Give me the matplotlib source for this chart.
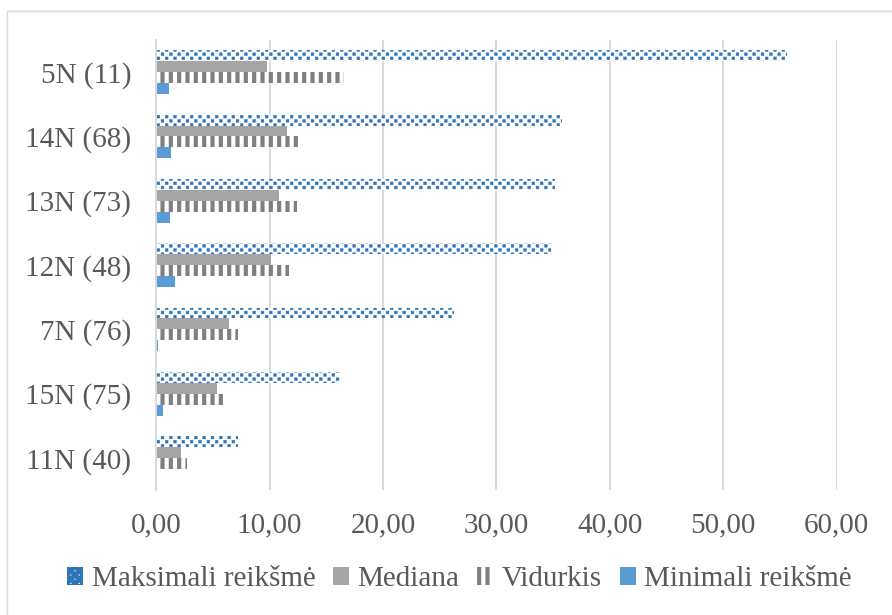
import matplotlib
matplotlib.use("Agg")
import matplotlib.hatch as mhatch
import matplotlib.pyplot as plt
import numpy as np
from matplotlib.patches import Rectangle
from matplotlib.path import Path

categories = ["5N (11)", "14N (68)", "13N (73)", "12N (48)", "7N (76)", "15N (75)", "11N (40)"]
maksimali = [55.6, 35.8, 35.2, 34.8, 26.3, 16.2, 7.2]
mediana = [9.8, 11.5, 10.8, 10.1, 6.4, 5.4, 2.2]
vidurkis = [16.6, 12.8, 12.4, 11.7, 7.2, 6.0, 2.7]
minimali = [1.1, 1.3, 1.2, 1.7, 0.15, 0.6, 0.0]
series_names = ["Maksimali reikšmė", "Mediana", "Vidurkis", "Minimali reikšmė"]
x_ticks = [0, 10, 20, 30, 40, 50, 60]

TEXT = "#595959"
GRID = "#D9D9D9"


class Checker(mhatch.HatchPatternBase):
    """Small filled squares, two staggered rows per column step (takes the '*' slot)."""
    half = 0.014

    def __init__(self, hatch, density):
        self.ncols = hatch.count("*") * density
        self.nrows = 2 * self.ncols
        if self.ncols == 0:
            self.num_vertices = 0
        else:
            self.num_vertices = (self.nrows + 1) * (self.ncols + 1) * 5

    def set_vertices_and_codes(self, vertices, codes):
        sq = np.array([[-1, -1], [1, -1], [1, 1], [-1, 1], [-1, -1]], dtype=float) * self.half
        sq_codes = [Path.MOVETO, Path.LINETO, Path.LINETO, Path.LINETO, Path.CLOSEPOLY]
        step = 1.0 / self.ncols
        i = 0
        for r in range(self.nrows + 1):
            shift = step / 2 if r % 2 else 0.0
            for c in range(self.ncols + 1):
                vertices[i:i + 5] = sq + [c * step + shift, r * step / 2]
                codes[i:i + 5] = sq_codes
                i += 5


mhatch._hatch_types[mhatch._hatch_types.index(mhatch.Stars)] = Checker

plt.rcParams["font.family"] = ["Liberation Serif", "DejaVu Serif"]
plt.rcParams["font.size"] = 21
plt.rcParams["hatch.linewidth"] = 3.0

fig, ax = plt.subplots(figsize=(8.92, 6.15), dpi=100)
fig.subplots_adjust(left=0.175, right=0.938, top=0.935, bottom=0.203)

y = np.arange(len(categories))
h = 0.17

b_max = ax.barh(y - 1.5 * h, maksimali, h, color="white", edgecolor="#2E75B6",
                linewidth=0, hatch="**", label=series_names[0])
ax.barh(y - 0.5 * h, mediana, h, color="#A5A5A5", label=series_names[1])
b_vid = ax.barh(y + 0.5 * h, vidurkis, h, color="white", edgecolor="#7F7F7F",
                linewidth=0, hatch="||", label=series_names[2])
ax.barh(y + 1.5 * h, minimali, h, color="#5B9BD5", label=series_names[3])

for bars, hlw in [(b_max, 0.3), (b_vid, 3.0)]:
    for p in bars:
        if hasattr(p, "set_hatch_linewidth"):
            p.set_hatch_linewidth(hlw)

ax.set_ylim(len(categories) - 0.5, -0.5)
ax.set_yticks(y)
ax.set_yticklabels(categories, color=TEXT)
ax.set_xlim(0, 60)
ax.set_xticks(x_ticks)
ax.set_xticklabels([f"{v:.2f}".replace(".", ",") for v in x_ticks], color=TEXT)
ax.tick_params(axis="both", length=0)
ax.tick_params(axis="x", pad=16)
ax.tick_params(axis="y", pad=18)

ax.set_axisbelow(True)
ax.grid(axis="x", color=GRID, linewidth=1.4)
for side in ["top", "right", "bottom"]:
    ax.spines[side].set_visible(False)
ax.spines["left"].set_color(GRID)
ax.spines["left"].set_linewidth(1.4)

leg = fig.legend(loc="center", bbox_to_anchor=(0.515, 0.058), ncol=4, frameon=False,
                 handlelength=0.55, handleheight=0.55, handletextpad=0.3,
                 columnspacing=0.6, fontsize=21)
for t in leg.get_texts():
    t.set_color(TEXT)

# thin chart frame (cut off at right/bottom in the original)
fig.patches.append(Rectangle((0.008, -0.1), 1.1, 1.082, transform=fig.transFigure,
                             fill=False, edgecolor=GRID, linewidth=1))

fig.savefig("out.png", dpi=100)
